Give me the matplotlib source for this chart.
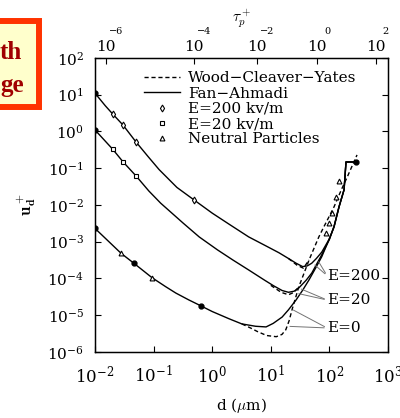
import matplotlib.pyplot as plt
from matplotlib.patches import Rectangle

plt.rcParams['mathtext.fontset'] = 'cm'
plt.rcParams['font.family'] = ['DejaVu Serif']

# Fan-Ahmadi model curves (solid), d in micron
d_e200 = [0.01, 0.015, 0.02, 0.03, 0.05, 0.08, 0.124, 0.25, 0.49, 1.0, 1.94, 4.2, 8.0, 13.8, 20, 27,
          35, 42, 50, 60, 74, 100, 120, 146, 178, 192, 280]
u_e200 = [11, 5.0, 3.0, 1.5, 0.52, 0.21, 0.092, 0.030, 0.0137, 6.0e-3, 3.0e-3, 1.35e-3, 7.9e-4,
          5.0e-4, 3.5e-4, 2.6e-4, 2.1e-4, 2.2e-4, 2.6e-4, 3.5e-4, 5.2e-4, 1.2e-3, 2.6e-3, 8.9e-3,
          0.026, 0.148, 0.148]
d_e20 = [0.01, 0.02, 0.03, 0.05, 0.083, 0.132, 0.32, 0.6, 1.23, 2.24, 4.2, 7.9, 11.2, 15.6, 20, 25,
         30, 40, 50, 74, 100, 120, 146, 178, 192, 280]
u_e20 = [1.1, 0.33, 0.15, 0.062, 0.024, 0.0112, 3.2e-3, 1.35e-3, 6.0e-4, 3.2e-4, 1.7e-4, 8.9e-5,
         6.3e-5, 4.7e-5, 4.2e-5, 4.5e-5, 5.5e-5, 8.9e-5, 1.4e-4, 4.4e-4, 1.15e-3, 2.6e-3, 8.9e-3,
         0.026, 0.148, 0.148]
d_e0 = [0.01, 0.028, 0.046, 0.094, 0.16, 0.24, 0.4, 0.64, 1.0, 1.94, 3.2, 5.5, 8.3, 11, 15.6, 20,
        27, 35, 45, 58, 74, 95, 120, 146, 178, 192, 280]
u_e0 = [2.3e-3, 4.8e-4, 2.6e-4, 1.05e-4, 6.0e-5, 4.0e-5, 2.6e-5, 1.8e-5, 1.26e-5, 8.0e-6, 5.8e-6,
        5.0e-6, 4.8e-6, 6.0e-6, 8.9e-6, 1.4e-5, 2.6e-5, 4.8e-5, 9.2e-5, 1.9e-4, 3.9e-4, 1.0e-3,
        2.5e-3, 8.9e-3, 0.026, 0.148, 0.148]

# Wood-Cleaver-Yates (dashed), only where it leaves the solid curves
d_wcy0 = [3.2, 4.5, 5.9, 8.5, 12.4, 15.5, 18, 20.5, 23, 26, 30, 37, 45, 55, 66, 80, 98, 120, 160,
          200, 296]
u_wcy0 = [5.8e-6, 4.5e-6, 3.6e-6, 2.8e-6, 2.6e-6, 3.0e-6, 4.0e-6, 7.0e-6, 1.4e-5, 2.7e-5, 5.9e-5,
          1.4e-4, 3.2e-4, 6.8e-4, 1.35e-3, 2.5e-3, 4.7e-3, 8.9e-3, 0.026, 0.056, 0.23]
d_wcy20 = [10, 15, 20, 25, 30]
u_wcy20 = [6.5e-5, 4.2e-5, 3.6e-5, 4.2e-5, 5.9e-5]
d_wcy200 = [20, 28, 36, 45]
u_wcy200 = [3.5e-4, 2.3e-4, 1.9e-4, 3.2e-4]

# simulation points
d_pt200 = [0.02, 0.03, 0.05, 0.49]
u_pt200 = [3.0, 1.5, 0.52, 0.0137]
d_pt20 = [0.02, 0.03, 0.05]
u_pt20 = [0.33, 0.15, 0.062]
d_neut = [0.028, 0.094, 87, 98, 110, 130, 146]
u_neut = [4.8e-4, 1.05e-4, 1.7e-3, 3.2e-3, 6.0e-3, 0.016, 0.045]
d_dot = [0.01, 0.01, 0.01, 0.046, 0.64, 280]
u_dot = [11, 1.1, 2.3e-3, 2.6e-4, 1.8e-5, 0.148]

# top axis: tau_p+ ticks (position in d)
tau_d = [0.0154, 0.49, 5.8, 62, 624]
tau_exp = ['−6', '−4', '−2', '0', '2']

fig = plt.figure(figsize=(4, 4.18), dpi=100)
ax = fig.add_axes([0.2375, 0.158, 0.7325, 0.7033])

lw = 1.0
ax.plot(d_e200, u_e200, 'k-', lw=lw)
ax.plot(d_e20, u_e20, 'k-', lw=lw)
ax.plot(d_e0, u_e0, 'k-', lw=lw)
ax.plot(d_wcy0, u_wcy0, 'k--', lw=lw, dashes=(3, 2))
ax.plot(d_wcy20, u_wcy20, 'k--', lw=lw, dashes=(3, 2))
ax.plot(d_wcy200, u_wcy200, 'k--', lw=lw, dashes=(3, 2))

ax.plot(d_pt200, u_pt200, 'd', ms=3.5, mfc='white', mec='k', mew=0.8)
ax.plot(d_pt20, u_pt20, 's', ms=3, mfc='white', mec='k', mew=0.8)
ax.plot(d_neut, u_neut, '^', ms=3.5, mfc='white', mec='k', mew=0.8)
ax.plot(d_dot, u_dot, 'o', ms=3.5, color='k')

# legend proxies
ax.plot([], [], 'k--', lw=lw, dashes=(3, 2), label='Wood−Cleaver−Yates')
ax.plot([], [], 'k-', lw=lw, label='Fan−Ahmadi')
ax.plot([], [], 'd', ms=3.5, mfc='white', mec='k', mew=0.8, label='E=200 kv/m')
ax.plot([], [], 's', ms=3, mfc='white', mec='k', mew=0.8, label='E=20 kv/m')
ax.plot([], [], '^', ms=3.5, mfc='white', mec='k', mew=0.8, label='Neutral Particles')
ax.legend(loc='upper left', bbox_to_anchor=(0.14, 0.98), frameon=False,
          handlelength=2.4, handletextpad=0.5, labelspacing=0.08, borderpad=0,
          prop={'family': 'DejaVu Serif', 'size': 11})

# labels E=...
for txt, xy_t, targets in [('E=200', (91, 1.2e-4), [(52, 2.6e-4), (62, 3.3e-4)]),
                           ('E=20', (91, 2.6e-5), [(30, 5.5e-5), (27, 4.0e-5)]),
                           ('E=0', (91, 4.5e-6), [(22, 1.5e-5), (19, 5.0e-6)])]:
    ax.text(xy_t[0], xy_t[1], txt, fontsize=11, va='center', ha='left')
    for tx, ty in targets:
        ax.annotate('', xy=(tx, ty), xytext=xy_t,
                    arrowprops=dict(arrowstyle='-', color='0.45', lw=0.7))

ax.set_xscale('log')
ax.set_yscale('log')
ax.set_xlim(1e-2, 1e3)
ax.set_ylim(1e-6, 1e2)
ax.set_xticks([1e-2, 1e-1, 1e0, 1e1, 1e2, 1e3])
ax.set_yticks([1e-6, 1e-5, 1e-4, 1e-3, 1e-2, 1e-1, 1e0, 1e1, 1e2])
ax.minorticks_off()
ax.tick_params(direction='in', length=4, width=0.8, right=True, labelsize=12)
ax.tick_params(axis='x', pad=9)
ax.tick_params(axis='y', pad=8, labelsize=11)
for s in ax.spines.values():
    s.set_linewidth(1.0)

ax.set_xlabel(r'd ($\mu$m)', fontsize=11)
ax.xaxis.set_label_coords(0.5, -0.15)
ax.set_ylabel(r'$\mathbf{u_d^+}$', fontsize=12)
ax.yaxis.set_label_coords(-0.195, 0.5)

ax2 = ax.twiny()
ax2.set_xscale('log')
ax2.set_xlim(ax.get_xlim())
ax2.set_xticks(tau_d)
ax2.set_xticklabels(['10'] * len(tau_d))
ax2.minorticks_off()
ax2.tick_params(direction='in', length=4, width=0.8, labelsize=11, pad=3)
for dx, ex in zip(tau_d, tau_exp):
    ax2.annotate(ex, xy=(dx, 1.0), xycoords=('data', 'axes fraction'),
                 xytext=(10, 26), textcoords='offset pixels',
                 fontsize=7, ha='center', va='center')
ax2.annotate(r'$\tau_p^+$', xy=(0.5, 1.0), xycoords='axes fraction',
             xytext=(0, 40), textcoords='offset pixels', fontsize=11,
             ha='center', va='center')

# clipped orange caption box at top left
fig.patches.append(Rectangle((-0.05, 0.744), 0.147, 0.205, transform=fig.transFigure,
                             facecolor='#FFFFCC', edgecolor='#FF3300', lw=4.3, zorder=5))
fig.text(0.0, 0.86, 'th', fontsize=18, fontweight='bold', family='Liberation Serif',
         color='#A00000', ha='left', va='baseline', zorder=6)
fig.text(0.0, 0.78, 'ge', fontsize=18, fontweight='bold', family='Liberation Serif',
         color='#A00000', ha='left', va='baseline', zorder=6)

fig.savefig('out.png', dpi=100)
